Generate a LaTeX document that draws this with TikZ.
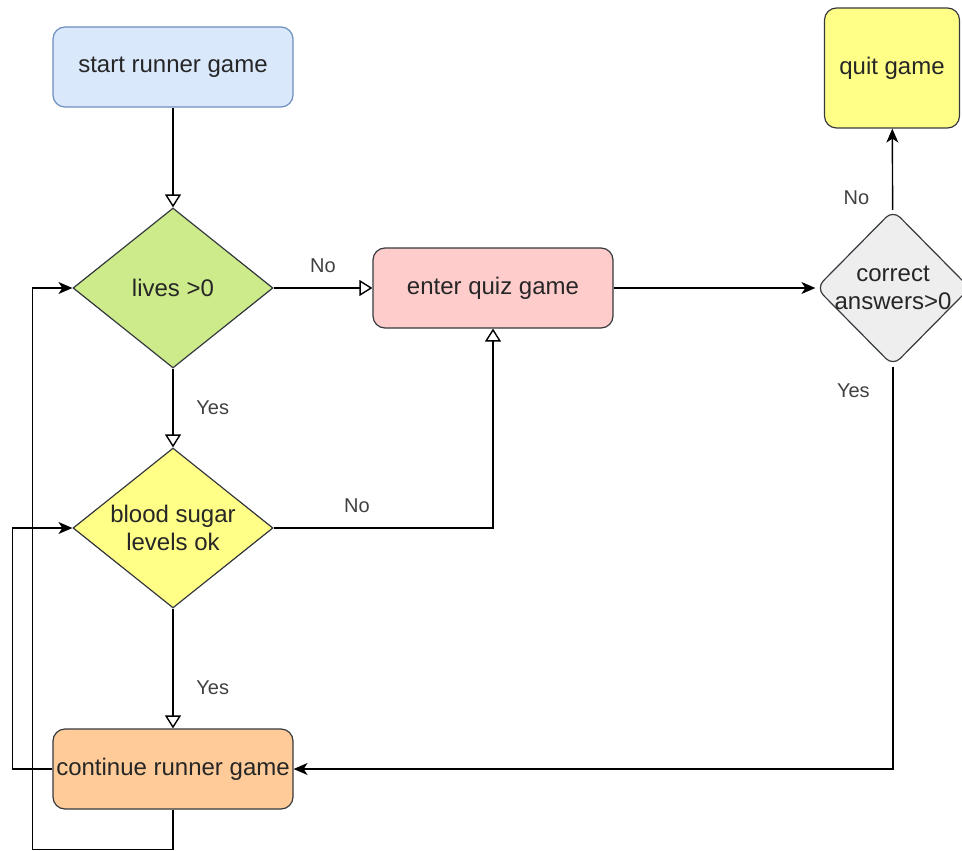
\documentclass[tikz,border=0pt]{standalone}
\usepackage{fontspec}
\setmainfont{Liberation Sans}
\usetikzlibrary{shapes.geometric,arrows.meta}
\definecolor{startblue}{HTML}{DAE8FC}
\definecolor{startline}{HTML}{6C8EBF}
\definecolor{livesgreen}{HTML}{CDEB8B}
\definecolor{sugaryellow}{HTML}{FFFF88}
\definecolor{quizpink}{HTML}{FFCCCC}
\definecolor{contorange}{HTML}{FFCC99}
\definecolor{corrgrey}{HTML}{EEEEEE}
\definecolor{edgeline}{HTML}{36393D}
\tikzset{
  box/.style={draw=edgeline, line width=0.6pt, rounded corners=6pt, inner xsep=1pt, minimum width=120pt, minimum height=40pt, font=\fontsize{12}{14}\selectfont, text=black!85},
  dia/.style={draw=edgeline, line width=0.6pt, diamond, aspect=1.25, inner sep=0pt, minimum width=100pt, minimum height=80pt, align=center, font=\fontsize{12}{14}\selectfont, text=black!85},
  opn/.style={line width=0.7pt, -{Triangle[open, length=6.5pt, width=8pt]}},
  fil/.style={line width=0.7pt, -{Stealth[length=7pt, width=6pt, inset=2pt]}},
  lbl/.style={font=\fontsize{10}{12}\selectfont, text=black!75}
}
\begin{document}
\begin{tikzpicture}[x=0.5pt,y=-0.5pt]
           \useasboundingbox (0,0) rectangle (962,850);
           \node[box, fill=startblue, draw=startline] (start) at (173,67) {start runner game};
           \node[dia, fill=livesgreen] (lives) at (173,288) {lives >0};
           \node[dia, fill=sugaryellow] (sugar) at (173,528) {blood sugar\\levels ok};
           \node[box, fill=contorange] (cont) at (173,769) {continue runner game};
           \node[box, fill=quizpink] (quiz) at (493,288) {enter quiz game};
           \node[dia, fill=corrgrey, aspect=1, rounded corners=5pt, minimum width=77pt, minimum height=78pt] (corr) at (893,288) {\makebox[0pt]{correct}\\\makebox[0pt]{answers>0}};
           \node[box, fill=sugaryellow, minimum width=67.5pt, minimum height=60pt] (quit) at (892,68) {quit game};
           \draw[opn] (start) -- (lives);
           \draw[opn] (lives) -- node[lbl, above=4pt]{No} (quiz);
           \draw[opn] (lives) -- node[lbl, right=8pt]{Yes} (sugar);
           \draw[opn] (sugar.east) -| node[lbl, pos=0.19, above=4pt]{No} (quiz.south);
           \draw[opn] (sugar) -- node[lbl, pos=0.66, right=8pt]{Yes} (cont);
           \draw[fil] (cont.west) -- ([xshift=-20pt]cont.west) |- (sugar.west);
           \draw[fil] (cont.south) -- ++(0,40) -| ([xshift=-20pt]lives.west) -- (lives.west);
           \draw[fil] (quiz) -- (corr);
           \draw[fil] (corr) -- node[lbl, pos=0.15, left=8pt]{No} (quit);
           \draw[fil] (corr.south) |- node[lbl, pos=0.03, left=8pt]{Yes} (cont.east);
\end{tikzpicture}
\end{document}
